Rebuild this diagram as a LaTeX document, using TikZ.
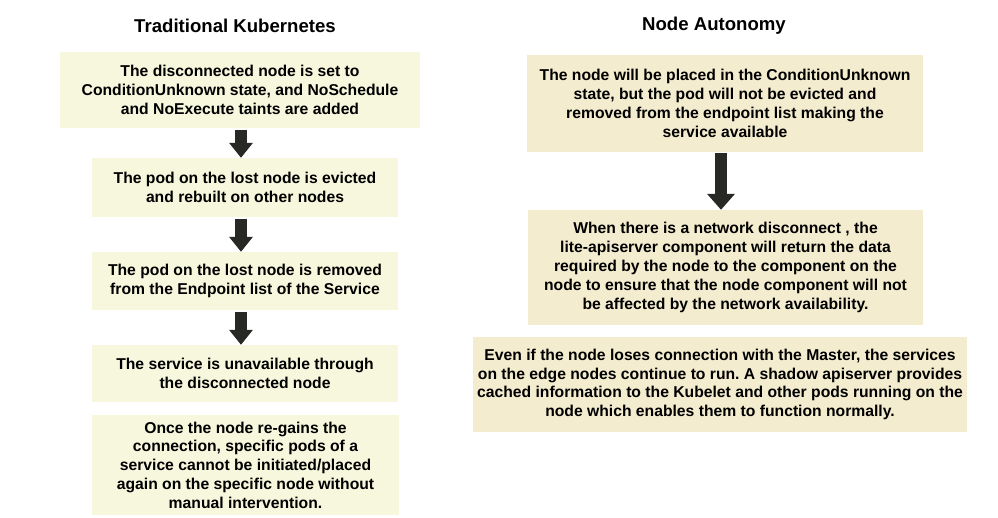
\documentclass[tikz,border=0pt]{standalone}
\usepackage{fontspec}
\setmainfont{Liberation Sans}
\usetikzlibrary{arrows.meta}
\definecolor{leftfill}{RGB}{247,247,221}
\definecolor{rightfill}{RGB}{243,236,206}
\definecolor{arrowc}{RGB}{40,40,36}
\frenchspacing
\begin{document}
\begin{tikzpicture}[x=1pt,y=-1pt,
  boxtext/.style={inner sep=0pt, align=center, text=black,
    font=\bfseries\fontsize{15.7}{18.8}\selectfont},
  lbox/.style={boxtext, fill=leftfill},
  rbox/.style={boxtext, fill=rightfill},
  title/.style={inner sep=0pt, font=\bfseries\fontsize{18.6}{22}\selectfont},
  larrow/.style={draw=arrowc, line width=12pt, -{Triangle[width=23pt,length=15pt]}, arrowc},
  rarrow/.style={draw=arrowc, line width=12pt, -{Triangle[width=27pt,length=16pt]}, arrowc}]
\useasboundingbox (0,0) rectangle (998,518);
\fill[white] (0,0) rectangle (998,518);

\node[title] (t1) at (235,26) {Traditional Kubernetes};
\node[title] (t2) at (714,26) {Node Autonomy};

\node[lbox, minimum width=360pt, minimum height=76pt] (L1) at (240,90)
  {The disconnected node is set to\\ConditionUnknown state, and NoSchedule\\and NoExecute taints are added};
\node[lbox, minimum width=306pt, minimum height=59pt] (L2) at (245,187.5)
  {The pod on the lost node is evicted\\and rebuilt on other nodes};
\node[lbox, minimum width=306pt, minimum height=58pt] (L3) at (245,281)
  {The pod on the lost node is removed\\from the Endpoint list of the Service};
\node[lbox, minimum width=306pt, minimum height=57pt] (L4) at (245,373.5)
  {The service is unavailable through\\the disconnected node};
\node[lbox, minimum width=307pt, minimum height=100pt] (L5) at (245.5,465)
  {Once the node re-gains the\\connection, specific pods of a\\service cannot be initiated/placed\\again on the specific node without\\manual intervention.};

\coordinate (a1s) at (241,130);
\coordinate (a2s) at (241,219);
\coordinate (a3s) at (241,312);
\draw[larrow] (a1s) -- (a1s |- L2.north);
\draw[larrow] (a2s) -- (a2s |- L3.north);
\draw[larrow] (a3s) -- (a3s |- L4.north);

\node[rbox, minimum width=396pt, minimum height=97pt] (R1) at (725,103.5)
  {The node will be placed in the ConditionUnknown\\state, but the pod will not be evicted and\\removed from the endpoint list making the\\service available};
\node[rbox, minimum width=395pt, minimum height=115pt] (R2) at (725.5,267.5)
  {When there is a network disconnect , the\\lite-apiserver component will return the data\\required by the node to the component on the\\node to ensure that the node component will not\\be affected by the network availability.};
\node[rbox, minimum width=494pt, minimum height=95pt] (R3) at (720,384.5)
  {Even if the node loses connection with the Master, the services\\on the edge nodes continue to run. A shadow apiserver provides\\cached information to the Kubelet and other pods running on the\\node which enables them to function normally.};

\coordinate (ra) at (721,153);
\draw[rarrow] (ra) -- (ra |- R2.north);
\end{tikzpicture}
\end{document}
